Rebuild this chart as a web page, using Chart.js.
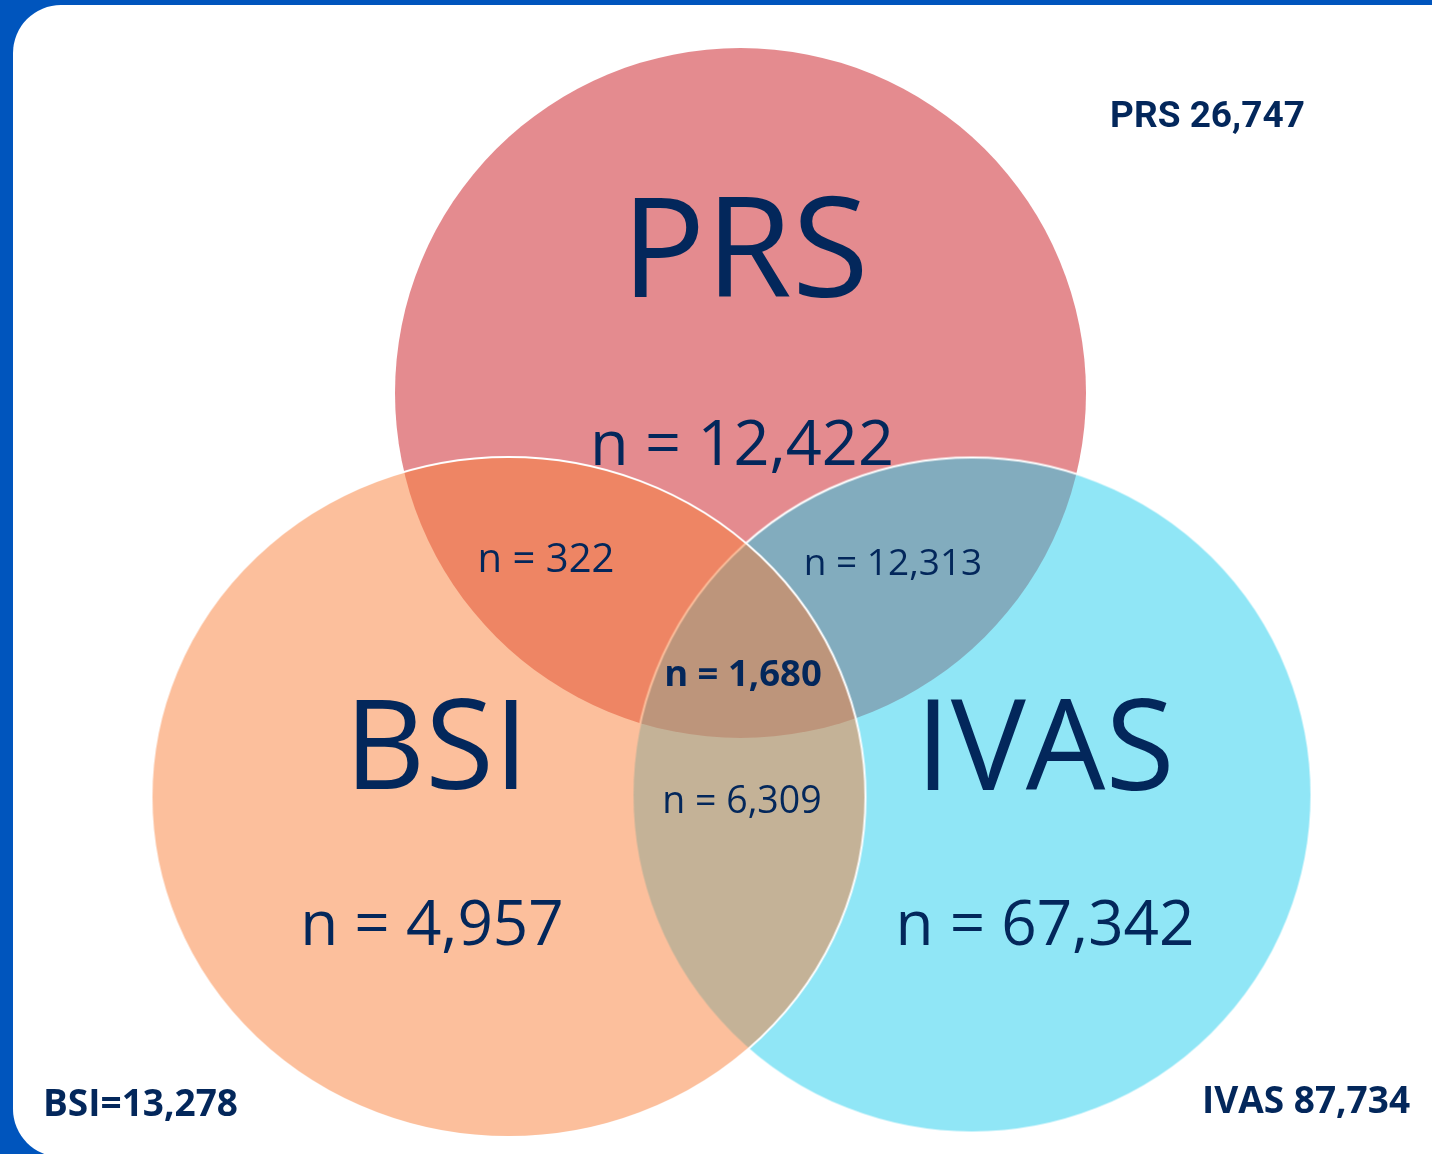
<!DOCTYPE html>
<html>
<head>
<meta charset="utf-8">
<script src="https://cdn.jsdelivr.net/npm/chart.js@4"></script>
<style>
  html, body { margin: 0; padding: 0; background: #0055BD; width: 1432px; height: 1154px; overflow: hidden; }
  #card { position: absolute; left: 13px; top: 5px; width: 1480px; height: 1152px; background: #ffffff; border-radius: 48px; }
  #c { position: absolute; left: 0; top: 0; }
</style>
</head>
<body>
<div id="card"></div>
<canvas id="c" width="1432" height="1154"></canvas>
<script>
// ---- data ----
const sets = ['PRS', 'BSI', 'IVAS'];
const setTotals = [26747, 13278, 87734];
const onlyCounts = [12422, 4957, 67342];
const pairLabels = ['PRS∩BSI', 'PRS∩IVAS', 'BSI∩IVAS'];
const pairCounts = [322, 12313, 6309];
const allThreeCount = 1680;

// ---- layout (diagram units; 1 unit = 10 px) ----
const centerX = [74.05, 50.85, 97.2];
const centerY = [76.1, 35.7, 35.9];
const radiusX = [34.55, 35.7, 33.95];
const radiusY = [34.5, 34.0, 33.75];
const fillColors = ['rgba(201,23,31,0.5)', 'rgba(249,127,57,0.5)', 'rgba(33,205,237,0.5)'];
const outlineWidths = [0, 2, 2];
const drawOrder = [0, 2, 1]; // PRS, IVAS, BSI (BSI on top)

const INK = '#03275B';
const fmt = n => n.toLocaleString('en-US');

function pxLen(scale, v) {
  const d = Math.abs(scale.getPixelForValue(v) - scale.getPixelForValue(0));
  return isFinite(d) ? d : 0;
}

const ellipseCache = {};
function ellipseStyle(i, rx, ry) {
  const key = i + ':' + rx.toFixed(2) + ':' + ry.toFixed(2);
  if (ellipseCache[key]) return ellipseCache[key];
  const bw = outlineWidths[i];
  const pad = 2;
  const cv = document.createElement('canvas');
  cv.width = Math.max(1, Math.round(2 * rx + 2 * pad));
  cv.height = Math.max(1, Math.round(2 * ry + 2 * pad));
  const g = cv.getContext('2d');
  if (rx > 0 && ry > 0) {
    g.beginPath();
    g.ellipse(cv.width / 2, cv.height / 2, rx, ry, 0, 0, Math.PI * 2);
    g.fillStyle = fillColors[i];
    g.fill();
    if (bw > 0) {
      g.lineWidth = bw;
      g.strokeStyle = '#ffffff';
      g.stroke();
    }
  }
  ellipseCache[key] = cv;
  return cv;
}

const points = drawOrder.map(i => ({ x: centerX[i], y: centerY[i], set: i }));

const textItems = [
  { t: sets[0], x: 74.5, y: 85.7, f: '400 140px "Open Sans"' },
  { t: 'n = ' + fmt(onlyCounts[0]), x: 74.2, y: 68.9, f: '400 63px "Open Sans"' },
  { t: sets[1], x: 43.65, y: 36.5, f: '400 125px "Open Sans"' },
  { t: 'n = ' + fmt(onlyCounts[1]), x: 43.2, y: 20.9, f: '400 62px "Open Sans"' },
  { t: sets[2], x: 104.5, y: 36.4, f: '400 126px "Open Sans"' },
  { t: 'n = ' + fmt(onlyCounts[2]), x: 104.5, y: 20.9, f: '400 62px "Open Sans"' },
  { t: 'n = ' + fmt(pairCounts[0]), x: 54.6, y: 58.2, f: '400 40px "Open Sans"' },
  { t: 'n = ' + fmt(pairCounts[1]), x: 89.3, y: 57.9, f: '400 37px "Open Sans"' },
  { t: 'n = ' + fmt(allThreeCount), x: 74.3, y: 46.8, f: '700 36.5px "Open Sans"' },
  { t: 'n = ' + fmt(pairCounts[2]), x: 74.2, y: 34.1, f: '400 37.5px "Open Sans"' },
  { t: sets[0] + ' ' + fmt(setTotals[0]), x: 120.75, y: 102.7, f: '700 37px Roboto' },
  { t: sets[1] + '=' + fmt(setTotals[1]), x: 14.05, y: 3.8, f: '700 37px "Open Sans"' },
  { t: sets[2] + ' ' + fmt(setTotals[2]), x: 130.6, y: 4.1, f: '700 37px "Open Sans"' }
];

const labelPlugin = {
  id: 'vennLabels',
  afterDatasetsDraw(chart) {
    const { ctx, scales: { x, y } } = chart;
    ctx.save();
    ctx.fillStyle = INK;
    ctx.textAlign = 'center';
    ctx.textBaseline = 'alphabetic';
    textItems.forEach(it => {
      ctx.font = it.f;
      ctx.fillText(it.t, x.getPixelForValue(it.x), y.getPixelForValue(it.y));
    });
    ctx.restore();
  }
};

new Chart(document.getElementById('c'), {
  type: 'bubble',
  data: {
    datasets: [{
      label: 'Venn',
      data: points,
      clip: false,
      backgroundColor: c => (c.raw ? fillColors[c.raw.set] : fillColors[0]),
      borderColor: '#ffffff',
      borderWidth: c => (c.raw ? outlineWidths[c.raw.set] : 0),
      radius: c => {
        if (!c.raw) return 1;
        return Math.max(1, pxLen(c.chart.scales.x, radiusX[c.raw.set]));
      },
      pointStyle: c => {
        if (!c.raw) return 'circle';
        const i = c.raw.set;
        const rx = pxLen(c.chart.scales.x, radiusX[i]);
        const ry = pxLen(c.chart.scales.y, radiusY[i]);
        return ellipseStyle(i, rx, ry);
      }
    }]
  },
  options: {
    responsive: false,
    animation: false,
    events: [],
    layout: { padding: 0, autoPadding: false },
    plugins: { legend: { display: false }, tooltip: { enabled: false } },
    scales: {
      x: { type: 'linear', min: 0, max: 143.2, display: false },
      y: { type: 'linear', min: 0, max: 115.4, display: false }
    }
  },
  plugins: [labelPlugin]
});
</script>
</body>
</html>
